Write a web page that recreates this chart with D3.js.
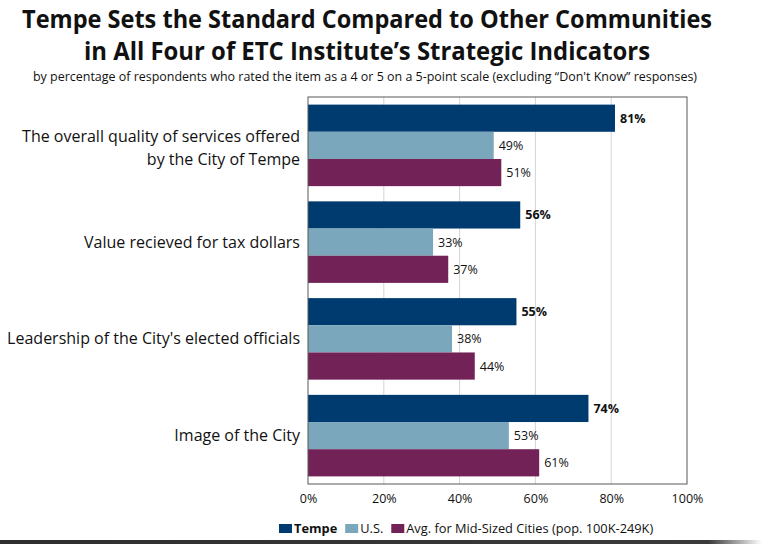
<!DOCTYPE html>
<html><head><meta charset="utf-8">
<script src="https://cdn.jsdelivr.net/npm/d3@7"></script>
<style>body{margin:0;background:#fff;}svg{display:block;font-family:"Open Sans","Noto Sans",sans-serif;}</style>
</head><body>
<svg id="c" width="762" height="544"></svg>
<script>
const categories = [
  ["The overall quality of services offered", "by the City of Tempe"],
  ["Value recieved for tax dollars"],
  ["Leadership of the City's elected officials"],
  ["Image of the City"]
];
const seriesNames = ["Tempe", "U.S.", "Avg. for Mid-Sized Cities (pop. 100K-249K)"];
const tempe = [81, 56, 55, 74];
const us = [49, 33, 38, 53];
const midSized = [51, 37, 44, 61];
const tickValues = [0, 20, 40, 60, 80, 100];
const colors = ["#003B70", "#7BA7BD", "#722257"];

const series = [tempe, us, midSized];
const svg = d3.select("#c");
const W = 762, H = 544;
const m = {l: 308, r: 687, t: 97, b: 484};

svg.append("rect").attr("width", W).attr("height", H).attr("fill", "#fff");

// Titles
svg.append("text").attr("x", 367).attr("y", 28).attr("text-anchor", "middle")
  .attr("font-size", 25).attr("font-weight", "bold").attr("fill", "#111")
  .attr("textLength", 690).attr("lengthAdjust", "spacingAndGlyphs")
  .text("Tempe Sets the Standard Compared to Other Communities");
svg.append("text").attr("x", 367).attr("y", 60).attr("text-anchor", "middle")
  .attr("font-size", 25).attr("font-weight", "bold").attr("fill", "#111")
  .attr("textLength", 566).attr("lengthAdjust", "spacingAndGlyphs")
  .text("in All Four of ETC Institute\u2019s Strategic Indicators");
svg.append("text").attr("x", 365).attr("y", 81).attr("text-anchor", "middle")
  .attr("font-size", 12).attr("fill", "#111")
  .attr("textLength", 664).attr("lengthAdjust", "spacingAndGlyphs")
  .text("by percentage of respondents who rated the item as a 4 or 5 on a 5-point scale (excluding \u201cDon't Know\u201d responses)");

const x = d3.scaleLinear().domain([0, 100]).range([m.l, m.r]);
const y = d3.scaleBand().domain(d3.range(categories.length)).range([m.t, m.b]).paddingInner(0).paddingOuter(0);
const inner = d3.scaleBand().domain(d3.range(series.length)).range([0, y.bandwidth()]).paddingOuter(0.28).paddingInner(0);

// gridlines
svg.append("g").selectAll("line").data(tickValues.slice(1, -1)).join("line")
  .attr("x1", d => x(d)).attr("x2", d => x(d)).attr("y1", m.t).attr("y2", m.b)
  .attr("stroke", "#d4d4d4").attr("stroke-width", 1);

// bars
series.forEach((vals, si) => {
  svg.append("g").selectAll("rect").data(vals).join("rect")
    .attr("x", x(0)).attr("y", (d, i) => y(i) + inner(si))
    .attr("width", d => x(d) - x(0)).attr("height", inner.bandwidth())
    .attr("fill", colors[si]);
  svg.append("g").selectAll("text").data(vals).join("text")
    .attr("x", d => x(d) + 5).attr("y", (d, i) => y(i) + inner(si) + inner.bandwidth() / 2 + 4.5)
    .attr("font-size", 12.5).attr("font-weight", si === 0 ? "bold" : "normal").attr("fill", "#111")
    .text(d => d + "%");
});

// border
svg.append("rect").attr("x", m.l).attr("y", m.t).attr("width", m.r - m.l).attr("height", m.b - m.t)
  .attr("fill", "none").attr("stroke", "#595959").attr("stroke-width", 1);

// x axis
const xAxis = d3.axisBottom(x).tickValues(tickValues).tickFormat(d => d + "%").tickSize(0).tickPadding(0);
const gx = svg.append("g").attr("transform", `translate(0,${m.b + 10})`).call(xAxis);
gx.select(".domain").remove();
gx.selectAll("text").attr("font-size", 12.5).attr("fill", "#111").attr("font-family", "Open Sans, sans-serif").attr("dy", "0.71em");

// category labels
categories.forEach((lines, i) => {
  const cy = y(i) + y.bandwidth() / 2 + (lines.length > 1 ? 3 : 0);
  const lh = 23;
  const t = svg.append("text").attr("text-anchor", "end").attr("font-size", 16).attr("fill", "#111");
  lines.forEach((ln, j) => {
    t.append("tspan").attr("x", 300).attr("y", cy - (lines.length - 1) * lh / 2 + j * lh + 5.5).text(ln);
  });
});

// legend
let lx = 279;
seriesNames.forEach((n, i) => {
  const g = svg.append("g");
  g.append("rect").attr("x", lx).attr("y", 524).attr("width", 13).attr("height", 9).attr("fill", colors[i]);
  const tt = g.append("text").attr("x", lx + 15).attr("y", 533).attr("font-size", 12.8)
    .attr("font-weight", i === 0 ? "bold" : "normal").attr("fill", "#111").text(n);
  lx = lx + 15 + tt.node().getComputedTextLength() + 8;
});

// bottom shadow band
const grad = svg.append("defs").append("linearGradient").attr("id", "gb").attr("x1", "0").attr("x2", "1");
grad.append("stop").attr("offset", "0").attr("stop-color", "#2e2e2e");
grad.append("stop").attr("offset", "0.93").attr("stop-color", "#3a3a3a");
grad.append("stop").attr("offset", "1").attr("stop-color", "#ffffff");
svg.append("rect").attr("x", 0).attr("y", 540).attr("width", W).attr("height", 4).attr("fill", "url(#gb)");
</script>
</body></html>
